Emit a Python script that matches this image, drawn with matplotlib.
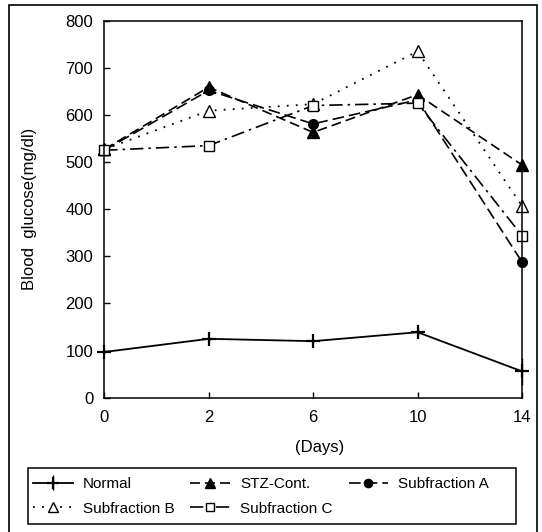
import matplotlib
matplotlib.use("Agg")
import matplotlib.pyplot as plt
from matplotlib.patches import Rectangle
import numpy as np

days = ["0", "2", "6", "10", "14"]

normal = [97, 125, 120, 139, 56]
normal_err = [5, 4, 4, 8, 28]
stz_cont = [527, 659, 563, 643, 494]
sub_a = [525, 652, 581, 632, 288]
sub_b = [527, 609, 623, 735, 407]
sub_c = [525, 535, 620, 625, 344]

plt.rcParams["font.family"] = ["Liberation Sans", "DejaVu Sans"]

W, H = 542, 532


def main():
    fig = plt.figure(figsize=(W / 100, H / 100), dpi=100)
    ax = fig.add_axes([0.1924, 0.2524, 0.7707, 0.7087])

    x = np.arange(len(days))

    h_norm = ax.errorbar(x, normal, yerr=normal_err, color="black", lw=1.3,
                         marker="+", ms=10, mew=1.6, capsize=0, elinewidth=1.0,
                         label="Normal")
    for art in h_norm.lines[0:1] + tuple(h_norm.lines[2]):
        art.set_clip_on(False)
    h_stz, = ax.plot(x, stz_cont, color="black", lw=1.2, ls=(0, (6, 3)),
                     marker="^", ms=8, mfc="black", label="STZ-Cont.", clip_on=False)
    h_a, = ax.plot(x, sub_a, color="black", lw=1.2, ls=(0, (7, 3)),
                   marker="o", ms=7, mfc="black", label="Subfraction A", clip_on=False)
    h_b, = ax.plot(x, sub_b, color="black", lw=1.3, ls=(0, (1, 4)),
                   marker="^", ms=8, mfc="white", label="Subfraction B", clip_on=False)
    h_c, = ax.plot(x, sub_c, color="black", lw=1.2, ls=(0, (8, 3, 1.5, 3)),
                   marker="s", ms=7, mfc="white", label="Subfraction C", clip_on=False)

    ax.set_xlim(0, 4)
    ax.set_ylim(0, 800)
    ax.set_xticks(x)
    ax.set_xticklabels(days)
    ax.set_yticks(np.arange(0, 801, 100))
    ax.tick_params(direction="in", length=4, labelsize=12, width=1.0)
    ax.tick_params(axis="x", pad=9)
    ax.tick_params(axis="y", pad=8)
    for spine in ax.spines.values():
        spine.set_linewidth(1.1)

    ax.set_ylabel("Blood  glucose(mg/dl)", fontsize=12)
    ax.yaxis.set_label_coords(-0.16, 0.5)
    ax.set_xlabel("(Days)", fontsize=12)
    ax.xaxis.set_label_coords(0.516, -0.112)

    # legend fills column by column, so this order gives the rows
    # Normal / STZ-Cont. / Subfraction A, then Subfraction B / Subfraction C
    handles = [h_norm, h_b, h_stz, h_c, h_a]
    labels = ["Normal", "Subfraction B", "STZ-Cont.", "Subfraction C", "Subfraction A"]
    fig.legend(handles, labels, ncol=3, loc="upper left",
               bbox_to_anchor=(33 / W, 1 - 477 / H),
               bbox_transform=fig.transFigure, fontsize=11,
               frameon=False, handlelength=2.6, handletextpad=0.65,
               labelspacing=0.7, columnspacing=1.05,
               borderaxespad=0, borderpad=0, markerscale=0.85)

    # legend box drawn separately so it can be wider than the entries
    fig.patches.append(Rectangle((28 / W, 1 - 524 / H), 488 / W, 56 / H,
                                 transform=fig.transFigure, fill=False,
                                 edgecolor="black", lw=1.1))

    # outer frame around the whole figure
    fig.patches.append(Rectangle((9 / W, -0.01), 528 / W, 1.0 - 5 / H + 0.01,
                                 transform=fig.transFigure, fill=False,
                                 edgecolor="black", lw=1.2))

    fig.savefig("out.png", dpi=100)
    plt.close(fig)


if __name__ == "__main__":
    main()
